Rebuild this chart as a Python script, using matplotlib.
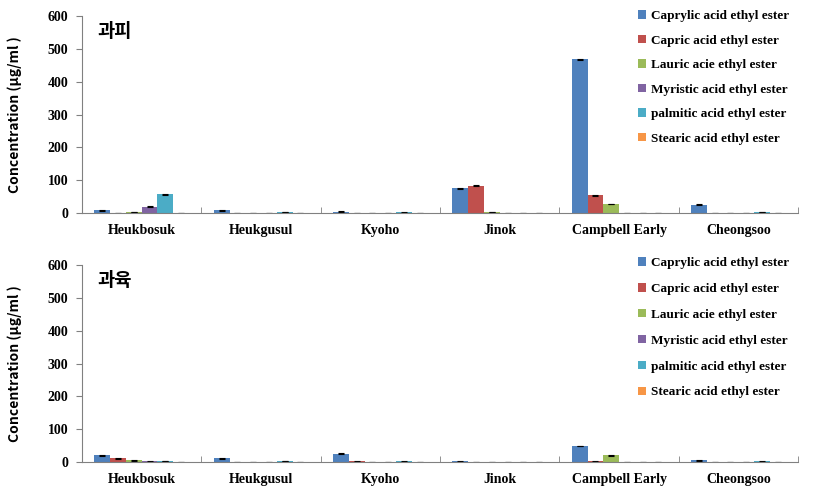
import numpy as np
import matplotlib.pyplot as plt

cultivars = ["Heukbosuk", "Heukgusul", "Kyoho", "Jinok", "Campbell Early", "Cheongsoo"]
esters = ["Caprylic acid ethyl ester", "Capric acid ethyl ester", "Lauric acie ethyl ester",
          "Myristic acid ethyl ester", "palmitic acid ethyl ester", "Stearic acid ethyl ester"]
colors = ["#4F81BD", "#C0504D", "#9BBB59", "#8064A2", "#4BACC6", "#F79646"]

# 과피 (skin): rows = esters, cols = cultivars
skin = [
    [8, 8, 4, 76, 468, 26],
    [1, 1, 1, 83, 54, 1],
    [3, 1, 1, 3, 28, 1],
    [20, 1, 1, 1, 1, 1],
    [58, 3, 2, 1, 1, 3],
    [0, 0, 0, 0, 0, 0],
]
skin_err = [
    [1.5, 1.5, 1, 1.5, 2, 1],
    [0.5, 0.5, 0.5, 1.5, 1, 0.5],
    [0.5, 0.5, 0.5, 0.5, 1, 0.5],
    [1, 0.5, 0.5, 0.5, 0.5, 0.5],
    [1.5, 0.5, 0.5, 0.5, 0.5, 0.5],
    [0, 0, 0, 0, 0, 0],
]
# 과육 (flesh)
flesh = [
    [21, 11, 26, 2, 49, 5],
    [11, 1, 2, 1, 2, 1],
    [5, 1, 1, 1, 21, 1],
    [2, 1, 1, 1, 1, 1],
    [3, 3, 2, 1, 1, 2],
    [0, 0, 0, 0, 0, 0],
]
flesh_err = [
    [1, 1, 1, 0.5, 1, 0.5],
    [1, 0.5, 0.5, 0.5, 0.5, 0.5],
    [0.5, 0.5, 0.5, 0.5, 1, 0.5],
    [0.5, 0.5, 0.5, 0.5, 0.5, 0.5],
    [0.5, 0.5, 0.5, 0.5, 0.5, 0.5],
    [0, 0, 0, 0, 0, 0],
]

serif_bold = {"family": "Liberation Serif", "weight": "bold"}
kr = ["Noto Sans CJK KR", "DejaVu Sans"]

fig = plt.figure(figsize=(8.22, 4.99), dpi=100)
ax_top = fig.add_axes([0.0998, 0.573, 0.871, 0.395])
ax_bot = fig.add_axes([0.0998, 0.074, 0.871, 0.395])

x = np.arange(len(cultivars))
width = 0.132

panels = [(ax_top, skin, skin_err, "과피", 1.09, 0.95),
          (ax_bot, flesh, flesh_err, "과육", 1.1, 1.05)]
for ax, data, err, title, leg_y, spacing in panels:
    for i, name in enumerate(esters):
        pos = x + (i - 2.5) * width
        ax.bar(pos, data[i], width, color=colors[i], label=name,
               yerr=err[i], capsize=2.5, error_kw={"elinewidth": 0.8, "capthick": 0.8, "ecolor": "black"})
    ax.set_xlim(-0.5, len(cultivars) - 0.5)
    ax.set_ylim(0, 600)
    ax.set_yticks(range(0, 601, 100))
    ax.set_xticks(x)
    ax.set_xticklabels(cultivars, fontdict=serif_bold, fontsize=10)
    ax.set_xticks(np.arange(-0.5, len(cultivars)), minor=True)
    ax.tick_params(axis="x", which="major", length=0, pad=8)
    ax.tick_params(axis="x", which="minor", length=4, direction="in", color="#808080")
    ax.tick_params(axis="y", length=4, color="#808080", pad=6)
    for lab in ax.get_yticklabels():
        lab.set_fontfamily("Liberation Serif")
        lab.set_fontweight("bold")
        lab.set_fontsize(10)
    ax.spines["top"].set_visible(False)
    ax.spines["right"].set_visible(False)
    ax.spines["left"].set_color("#808080")
    ax.spines["bottom"].set_color("#808080")
    ax.set_ylabel("Concentration (µg/ml )", family=kr, fontweight="bold", fontsize=10, labelpad=18)
    ax.text(0.022, 0.97, title, transform=ax.transAxes, family=kr, fontweight="bold",
            fontsize=13.5, va="top")
    ax.legend(loc="upper left", bbox_to_anchor=(0.76, leg_y), frameon=False,
              prop={"family": "Liberation Serif", "weight": "bold", "size": 9.5},
              handlelength=0.6, handleheight=0.6, handletextpad=0.4, labelspacing=spacing)

fig.savefig("out.png", dpi=100)
